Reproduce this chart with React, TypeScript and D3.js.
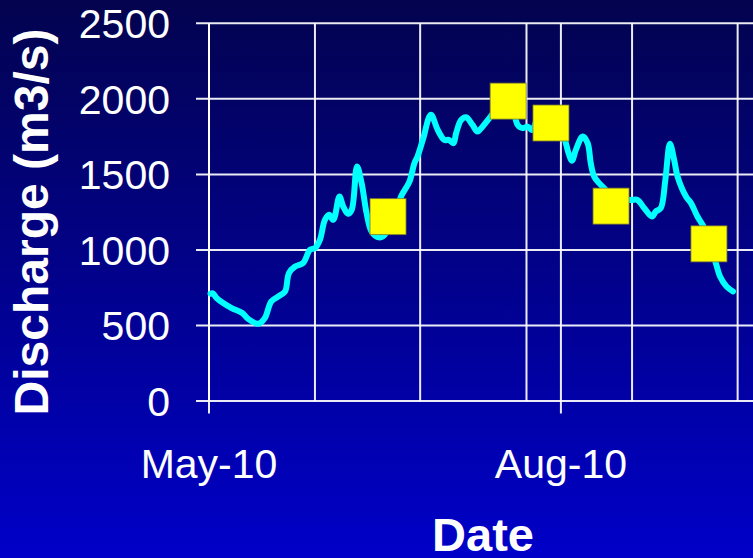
import React from "react";
import * as d3 from "d3";

// Daily discharge trace, days counted from 1 May 2010
const flowDay = [
  0.4, 1.0, 2.0, 3.7, 5.9, 8.7, 10.3, 12.9, 14.6, 16.3,
  18.5, 19.9, 20.9, 22.5, 24.6, 26.4, 27.7, 29.0, 30.3, 31.4,
  32.5, 34.1, 35.1, 36.3, 37.3, 38.7, 39.9, 41.2, 42.5, 44.1,
  45.5, 48.6, 50.2, 52.4, 53.7, 54.5, 55.9, 58.0, 59.8, 61.5,
  62.7, 63.9, 64.6, 65.9, 67.2, 68.9, 70.2, 71.5, 73.3, 76.1,
  78.7, 79.8, 80.7, 82.0, 83.3, 84.5, 85.9, 87.3, 90.4, 92.9,
  94.0, 94.9, 95.9, 97.7, 99.0, 99.8, 100.7, 102.0, 103.3, 106.1,
  110.3, 112.0, 113.8, 115.8, 116.8, 118.1, 119.3, 120.5, 121.6, 122.5,
  124.7, 126.0, 127.7, 129.5, 130.9, 132.5, 133.6, 135.3, 137.0,
];
const flowValue = [
  710, 713, 681, 648, 615, 582, 542, 511, 549, 659,
  698, 725, 847, 890, 913, 1001, 1012, 1067, 1199, 1232,
  1199, 1353, 1287, 1239, 1265, 1552, 1442, 1243, 1122, 1085,
  1090, 1232, 1353, 1452, 1574, 1618, 1728, 1894, 1794, 1728,
  1728, 1706, 1772, 1860, 1878, 1827, 1783, 1816, 1872, 1960,
  1993, 1905, 1827, 1806, 1816, 1794, 1880, 1935, 1860, 1739,
  1640, 1591, 1662, 1750, 1706, 1574, 1485, 1442, 1409, 1345,
  1331, 1331, 1276, 1221, 1254, 1276, 1464, 1702, 1596, 1485,
  1353, 1310, 1221, 1144, 1034, 913, 824, 758, 725,
];

// Sampled discharge measurements
const sampleDay = [46.8, 78.2, 89.4, 105.1, 130.7];
const sampleValue = [1220, 1985, 1840, 1290, 1040];

// Axis ticks
const yTicks = [0, 500, 1000, 1500, 2000, 2500];
const xGridDays = [0, 27.7, 55.2, 83, 110.6, 138.2];
const xTickDays = [0, 92];
const xTickLabels = ["May-10", "Aug-10"];

const W = 753;
const H = 558;
const FONT = "Arial, 'Liberation Sans', Helvetica, sans-serif";

export default function App() {
  const x = d3.scaleLinear().domain([0, 143]).range([209, 756]);
  const y = d3.scaleLinear().domain([0, 2500]).range([401, 23.3]);

  const pts: [number, number][] = flowDay.map((d, i) => [d, flowValue[i]]);
  const line = d3
    .line<[number, number]>()
    .x((d) => x(d[0]))
    .y((d) => y(d[1]))
    .curve(d3.curveCatmullRom.alpha(0.5));

  const right = W + 10;
  const bottom = y(0);
  const top = y(2500);
  const sq = 36;

  return (
    <svg
      width={W}
      height={H}
      style={{ position: "fixed", left: 0, top: 0, display: "block" }}
      fontFamily={FONT}
    >
      <defs>
        <linearGradient id="bg" x1="0" y1="0" x2="0" y2="1">
          <stop offset="0%" stopColor="#03034f" />
          <stop offset="100%" stopColor="#0000c9" />
        </linearGradient>
      </defs>
      <rect x={0} y={0} width={W} height={H} fill="url(#bg)" />

      {/* horizontal gridlines with outward ticks */}
      {yTicks.map((t) => (
        <line
          key={"h" + t}
          x1={196}
          x2={right}
          y1={y(t)}
          y2={y(t)}
          stroke="#ffffff"
          strokeWidth={2}
          strokeOpacity={0.92}
        />
      ))}
      {/* vertical gridlines */}
      {xGridDays.map((d) => (
        <line
          key={"v" + d}
          x1={x(d)}
          x2={x(d)}
          y1={top}
          y2={bottom}
          stroke="#ffffff"
          strokeWidth={2}
          strokeOpacity={0.92}
        />
      ))}
      {/* labelled ticks */}
      {xTickDays.map((d) => (
        <line
          key={"t" + d}
          x1={x(d)}
          x2={x(d)}
          y1={top}
          y2={413.5}
          stroke="#ffffff"
          strokeWidth={2}
          strokeOpacity={0.92}
        />
      ))}

      {/* y tick labels */}
      {yTicks.map((t) => (
        <text
          key={"yl" + t}
          x={170}
          y={y(t) + 14.7}
          textAnchor="end"
          fill="#ffffff"
          fontSize={41}
        >
          {t}
        </text>
      ))}
      {/* x tick labels */}
      {xTickDays.map((d, i) => (
        <text
          key={"xl" + d}
          x={x(d)}
          y={478}
          textAnchor="middle"
          fill="#ffffff"
          fontSize={41}
        >
          {xTickLabels[i]}
        </text>
      ))}

      {/* discharge line */}
      <path
        d={line(pts) || ""}
        fill="none"
        stroke="#00ffff"
        strokeWidth={6}
        strokeLinejoin="round"
        strokeLinecap="round"
      />

      {/* sample markers */}
      {sampleDay.map((d, i) => (
        <rect
          key={"s" + i}
          x={x(d) - sq / 2}
          y={y(sampleValue[i]) - sq / 2}
          width={sq}
          height={sq}
          fill="#ffff00"
          stroke="#7a7a30"
          strokeWidth={0.8}
        />
      ))}

      {/* axis titles */}
      <text
        x={483}
        y={551}
        textAnchor="middle"
        fill="#ffffff"
        fontSize={47}
        fontWeight="bold"
      >
        Date
      </text>
      <text
        transform="translate(48,222) rotate(-90)"
        textAnchor="middle"
        fill="#ffffff"
        fontSize={48}
        fontWeight="bold"
      >
        Discharge (m3/s)
      </text>
    </svg>
  );
}
